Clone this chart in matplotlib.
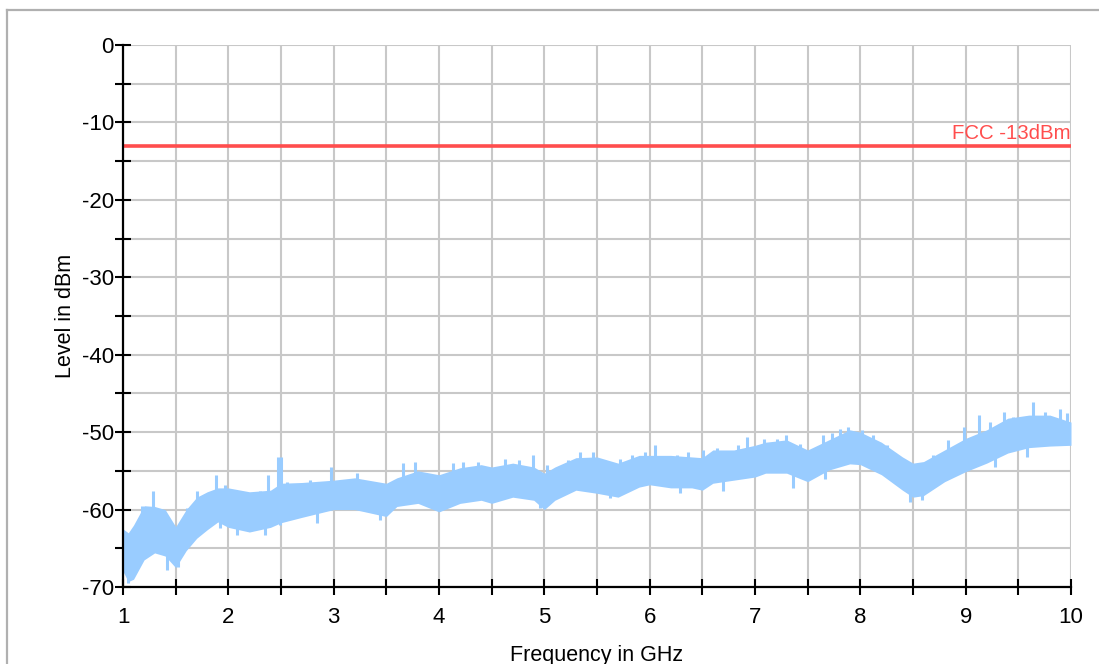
import numpy as np
import matplotlib.pyplot as plt
from matplotlib.lines import Line2D
from matplotlib.ticker import MultipleLocator

plt.rcParams['font.family'] = ['Liberation Sans', 'DejaVu Sans']
plt.rcParams['axes.unicode_minus'] = False

freq = [1.0, 1.05, 1.1, 1.2, 1.3, 1.4, 1.5, 1.6, 1.7, 1.8, 1.9, 2.0, 2.2, 2.4, 2.5, 2.7,
        3.0, 3.2, 3.5, 3.6, 3.8, 4.0, 4.2, 4.4, 4.5, 4.7, 4.9, 5.0, 5.1, 5.3, 5.5, 5.7,
        5.9, 6.0, 6.2, 6.4, 6.5, 6.6, 6.8, 7.0, 7.1, 7.3, 7.5, 7.7, 7.9, 8.0, 8.2, 8.4,
        8.5, 8.6, 8.8, 9.0, 9.2, 9.4, 9.6, 9.8, 10.0]
upper = [-62.5, -63.0, -62.0, -59.5, -59.6, -60.0, -62.2, -60.0, -58.4, -57.7, -57.2, -57.2,
         -57.7, -57.5, -56.6, -56.5, -56.2, -55.9, -56.6, -55.9, -55.0, -55.5, -54.6, -54.2,
         -54.5, -54.0, -54.5, -55.3, -54.5, -53.3, -53.2, -54.0, -53.0, -53.0, -53.0, -53.2,
         -53.3, -52.3, -52.3, -51.7, -51.3, -51.0, -52.3, -51.0, -49.7, -50.0, -51.3, -53.2,
         -54.0, -53.8, -52.3, -50.8, -49.7, -48.2, -47.8, -47.8, -48.7]
lower = [-68.0, -69.3, -69.0, -66.5, -65.6, -66.0, -67.5, -65.3, -63.7, -62.6, -61.6, -62.3,
         -62.9, -62.3, -61.7, -61.0, -60.0, -60.0, -60.9, -59.6, -59.2, -60.3, -59.2, -58.8,
         -59.2, -58.4, -58.8, -60.0, -58.8, -57.5, -57.9, -58.4, -57.1, -56.8, -57.2, -57.2,
         -57.5, -56.6, -56.2, -55.8, -55.3, -55.3, -56.4, -54.9, -54.1, -54.2, -55.5, -57.5,
         -58.4, -58.2, -56.4, -55.1, -54.0, -52.7, -52.0, -51.8, -51.7]

# peaks sticking up out of the trace
peak_freq = [1.18, 1.285, 1.39, 1.61, 1.70, 1.88, 1.97, 2.30, 2.38, 2.47, 2.5, 2.56, 2.78,
             2.97, 3.22, 3.66, 3.77, 4.13, 4.23, 4.37, 4.63, 4.76, 4.89, 5.03, 5.22, 5.34,
             5.46, 5.72, 5.83, 5.96, 6.05, 6.26, 6.36, 6.51, 6.64, 6.84, 6.92, 7.09, 7.21,
             7.29, 7.43, 7.65, 7.73, 7.81, 7.88, 8.02, 8.12, 8.25, 8.57, 8.69, 8.83, 8.98,
             9.13, 9.23, 9.36, 9.45, 9.64, 9.75, 9.90, 9.96]
peak_top = [-59.5, -57.6, -60.0, -59.8, -57.6, -55.5, -56.8, -57.6, -55.5, -53.2, -53.2,
            -56.4, -56.2, -54.5, -55.3, -54.0, -53.8, -54.0, -53.8, -53.8, -53.5, -53.6,
            -53.0, -54.3, -53.6, -52.6, -52.6, -53.5, -52.9, -52.6, -51.7, -52.9, -52.6,
            -52.3, -52.1, -51.6, -50.6, -50.9, -50.9, -50.4, -51.5, -50.4, -50.1, -49.6,
            -49.4, -49.7, -50.4, -51.7, -54.2, -52.9, -51.0, -49.4, -47.8, -48.7, -47.4,
            -48.0, -46.1, -47.4, -47.0, -47.5]

# dips reaching below the trace
dip_freq = [1.05, 1.42, 1.52, 1.92, 2.08, 2.35, 2.49, 2.84, 3.44, 4.96, 5.62, 6.29, 6.70,
            7.36, 7.66, 8.47, 8.59, 9.28, 9.58]
dip_bottom = [-69.5, -67.8, -67.4, -62.4, -63.3, -63.3, -62.0, -61.7, -61.3, -59.8, -58.5,
              -57.9, -57.6, -57.2, -56.1, -59.0, -58.7, -54.5, -53.2]

limit_level = -13
limit_label = "FCC -13dBm"

fig = plt.figure(figsize=(10.99, 6.64), dpi=100)
ax = fig.add_axes([123/1099, 1-587/664, (1071-123)/1099, (587-45)/664])

trace_color = '#99ccff'
ax.fill_between(freq, lower, upper, color=trace_color, lw=0, zorder=3)
mid = (np.array(upper) + np.array(lower)) / 2
ax.vlines(peak_freq, np.interp(peak_freq, freq, mid), peak_top, color=trace_color, lw=2.2, zorder=3)
ax.vlines(dip_freq, np.interp(dip_freq, freq, mid), dip_bottom, color=trace_color, lw=2.2, zorder=3)

ax.axhline(limit_level, color='#ff4d4d', lw=2.6, zorder=4)
ax.text(10, limit_level + 0.3, limit_label, color='#ff4d4d', fontsize=14.7,
        ha='right', va='bottom', zorder=5)

ax.set_xlim(1, 10)
ax.set_ylim(-70, 0)
ax.xaxis.set_major_locator(MultipleLocator(1))
ax.xaxis.set_minor_locator(MultipleLocator(0.5))
ax.yaxis.set_major_locator(MultipleLocator(10))
ax.yaxis.set_minor_locator(MultipleLocator(5))
ax.grid(which='both', color='#c8c8c8', lw=1.5, zorder=0)
ax.set_axisbelow(True)

for s in ['top', 'right']:
    ax.spines[s].set_visible(False)
for s in ['left', 'bottom']:
    ax.spines[s].set_linewidth(1.6)
    ax.spines[s].set_zorder(6)

ax.tick_params(which='both', direction='inout', length=11, width=1.5, labelsize=16)
ax.tick_params(axis='x', which='both', pad=9)
ax.tick_params(axis='y', which='both', pad=1)

ax.set_xlabel("Frequency in GHz", fontsize=15.5, labelpad=12)
ax.set_ylabel("Level in dBm", fontsize=15.5, labelpad=4)

# outer frame
fig.add_artist(Line2D([7/1099, 7/1099], [0, 1-10/664], color='#b0b0b0', lw=1.6))
fig.add_artist(Line2D([7/1099, 1], [1-10/664, 1-10/664], color='#b0b0b0', lw=1.6))

fig.savefig('out.png', dpi=100)
